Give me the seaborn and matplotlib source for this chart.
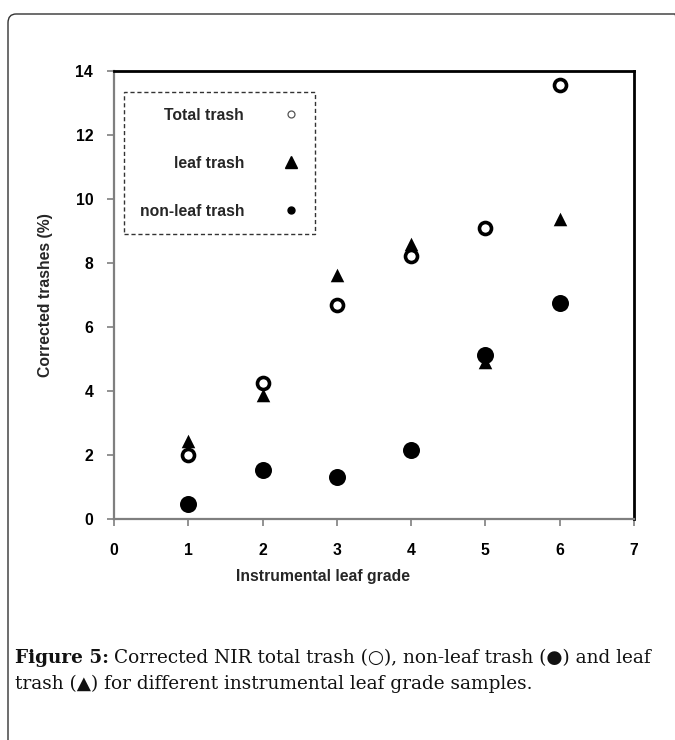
import numpy as np
import pandas as pd
import matplotlib
matplotlib.use("Agg")
import matplotlib.pyplot as plt
import seaborn as sns
from matplotlib.lines import Line2D
from matplotlib.patches import FancyBboxPatch

# data
grade = [1, 2, 3, 4, 5, 6]
total_trash = [2.00, 4.25, 6.68, 8.22, 9.08, 13.56]
leaf_trash = [2.44, 3.88, 7.63, 8.58, 4.92, 9.36]
nonleaf_trash = [0.47, 1.53, 1.31, 2.16, 5.12, 6.75]

x_ticks = [0, 1, 2, 3, 4, 5, 6, 7]
y_ticks = [0, 2, 4, 6, 8, 10, 12, 14]

sns.set_theme(style="white")
plt.rcParams['font.family'] = ['Liberation Sans', 'DejaVu Sans']

W, H = 675, 740
fig = plt.figure(figsize=(W / 100, H / 100), dpi=100)

# outer rounded frame of the figure box (cut at right and bottom)
frame = FancyBboxPatch((8 / W, -0.05), 1.0, 1 - 14 / H + 0.05,
                       boxstyle="round,pad=0,rounding_size=0.012",
                       transform=fig.transFigure, fill=False,
                       edgecolor='#333333', linewidth=1.0, clip_on=False)
fig.patches.append(frame)

ax = fig.add_axes([114 / W, 1 - 519 / H, 520 / W, 448 / H])

df = pd.DataFrame({'grade': grade, 'total': total_trash,
                   'leaf': leaf_trash, 'nonleaf': nonleaf_trash})

sns.scatterplot(data=df, x='grade', y='total', ax=ax, marker='o', s=75,
                facecolor='white', edgecolor='black', linewidth=2.6, zorder=3)
sns.scatterplot(data=df, x='grade', y='leaf', ax=ax, marker='^', s=95,
                color='black', edgecolor='black', linewidth=0, zorder=3)
sns.scatterplot(data=df, x='grade', y='nonleaf', ax=ax, marker='o', s=150,
                color='black', edgecolor='black', linewidth=0, zorder=3)

ax.set_xlim(0, 7)
ax.set_ylim(0, 14)
ax.set_xticks(x_ticks)
ax.set_yticks(y_ticks)
ax.set_xticklabels([str(v) for v in x_ticks], fontweight='bold', fontsize=11.3)
ax.set_yticklabels([str(v) for v in y_ticks], fontweight='bold', fontsize=11.3)

for side in ['left', 'bottom']:
    ax.spines[side].set_color('#7f7f7f')
    ax.spines[side].set_linewidth(1.6)
for side in ['top', 'right']:
    ax.spines[side].set_color('black')
    ax.spines[side].set_linewidth(2.0)
ax.tick_params(axis='both', bottom=True, left=True, direction='out', length=5,
               width=1.2, color='#7f7f7f', labelcolor='black', pad=12)
ax.tick_params(axis='y', pad=10)

ax.set_xlabel('Instrumental leaf grade', fontweight='bold', fontsize=11.3)
ax.set_ylabel('Corrected trashes (%)', fontweight='bold', fontsize=11.3)
ax.xaxis.set_label_coords((323 - 114) / 520, -(569 - 519) / 448)
ax.yaxis.set_label_coords(-(114 - 53) / 520, 0.5)

# legend, text first and marker after
handles = [
    Line2D([], [], linestyle='none', marker='o', markersize=5, markerfacecolor='white',
           markeredgecolor='#555555', markeredgewidth=0.9),
    Line2D([], [], linestyle='none', marker='^', markersize=9, color='black'),
    Line2D([], [], linestyle='none', marker='o', markersize=5, color='black'),
]
labels = ['Total trash', 'leaf trash', 'non-leaf trash']
leg = ax.legend(handles, labels, loc='upper left', markerfirst=False,
                bbox_to_anchor=((124 - 114) / 520, (519 - 92) / 448),
                prop={'weight': 'bold', 'size': 11.3}, frameon=True, fancybox=False,
                labelspacing=2.1, borderpad=1.0, handletextpad=2.5,
                borderaxespad=0, handlelength=1.0)
leg.get_frame().set_edgecolor('black')
leg.get_frame().set_linestyle((0, (3, 2)))
leg.get_frame().set_linewidth(1.0)

# caption below the chart: bold lead-in, then the rest right after it
serif = ['DejaVu Serif']
cap_size = 13.3
lead = fig.text(15 / W, 1 - 658 / H, 'Figure 5:', fontsize=cap_size, fontweight='bold',
                family=serif, va='center', ha='left', color='#111111')
renderer = fig.canvas.get_renderer()
lead_end = lead.get_window_extent(renderer).x1
fig.text((lead_end + 5) / W, 1 - 658 / H,
         'Corrected NIR total trash (\u25cb), non-leaf trash (\u25cf) and leaf',
         fontsize=cap_size, family=serif, va='center', ha='left', color='#111111')
fig.text(15 / W, 1 - 684 / H,
         'trash (\u25b2) for different instrumental leaf grade samples.',
         fontsize=cap_size, family=serif, va='center', ha='left', color='#111111')

fig.savefig('out.png', dpi=100)
